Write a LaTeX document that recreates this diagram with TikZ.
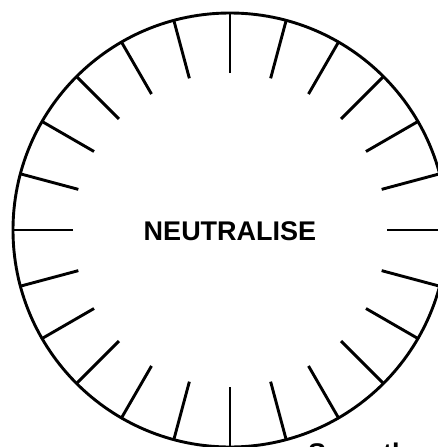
\documentclass[tikz,border=0pt]{standalone}
\usepackage{fontspec}
\setmainfont{Liberation Sans}
\usetikzlibrary{calc}
\tikzset{
  rim/.style={draw=black, line width=2.9pt},
  dialtick/.style={draw=black, line width=2.9pt},
  word/.style={font=\bfseries\fontsize{27}{30}\selectfont, inner sep=0pt}
}
\begin{document}
\begin{tikzpicture}[x=1pt,y=-1pt]
\useasboundingbox (0,0) rectangle (438,447);
\clip (0,0) rectangle (438,447);
\coordinate (c) at (230,230);
% dial rim and ticks
\draw[rim] (c) circle (217pt);
\foreach \a in {0,15,...,345}
  \draw[dialtick] ($(c)+(\a:157pt)$) -- ($(c)+(\a:217pt)$);
\node[word] (neutral) at (230,231) {NEUTRALISE};
\node[word, anchor=base west] (caption) at (308,462.5) {Smooth};
\end{tikzpicture}
\end{document}
